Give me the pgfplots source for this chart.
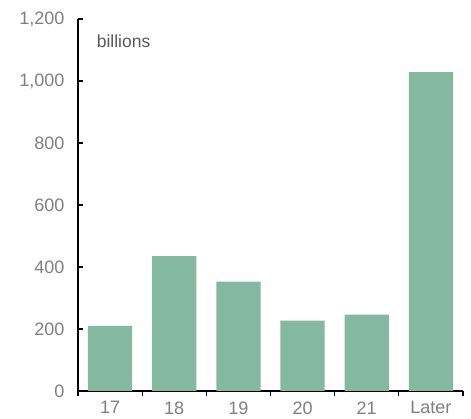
\documentclass[border=0pt]{standalone}
\usepackage{pgfplots}
\pgfplotsset{compat=1.18}
\usepackage{fontspec}
\setmainfont{Liberation Sans}
\definecolor{barc}{RGB}{133,184,160}
\definecolor{tickc}{RGB}{127,127,127}
\definecolor{labc}{RGB}{89,89,89}
\begin{document}
\begin{tikzpicture}
\begin{axis}[
  scale only axis,
  width=385pt, height=372pt,
  xmin=-0.5, xmax=5.5,
  ymin=0, ymax=1200,
  axis lines*=left,
  axis line style={draw=black, line width=1.3pt, -},
  xtick={-0.5,0.5,...,5.5},
  x tick label as interval,
  xticklabels={17,18,19,20,21,Later},
  ytick={0,200,...,1200},
  tick style={draw=black, line width=1.3pt},
  xtick align=outside,
  ytick align=inside,
  major tick length=5pt,
  tick label style={font=\fontsize{18}{20}\selectfont, text=tickc},
  /pgf/number format/assume math mode=true,
  /pgf/number format/1000 sep={,},
  yticklabel style={xshift=-10pt},
  xticklabel style={yshift=-2pt},
  clip=false,
]
\addplot[ybar, bar width=0.69, fill=barc, draw=none] coordinates {
  (0,210) (1,435) (2,353) (3,227) (4,246) (5,1029)
};
\node[anchor=base west, text=labc, font=\fontsize{17.5}{20}\selectfont, inner sep=0pt] at (axis cs:-0.21,1107) {billions};
\path ([xshift=-78pt,yshift=-28pt]rel axis cs:0,0) rectangle ([xshift=8pt,yshift=19pt]rel axis cs:1,1);
\end{axis}
\end{tikzpicture}
\end{document}
